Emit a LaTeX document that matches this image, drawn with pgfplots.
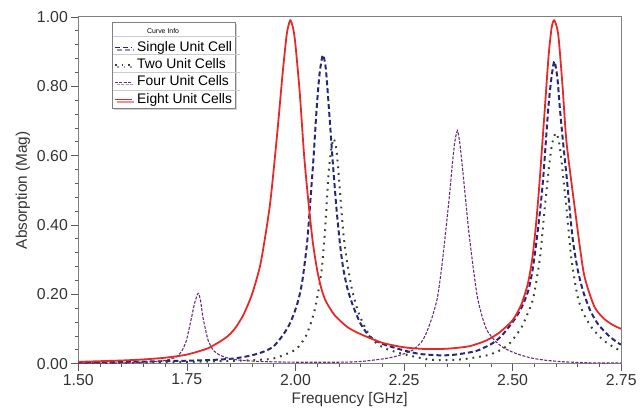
\documentclass[border=0pt]{standalone}
\usepackage{fontspec}
\setmainfont{Liberation Sans}
\usepackage{pgfplots}
\pgfplotsset{compat=1.18}
\usetikzlibrary{shadows}

\definecolor{cSingle}{RGB}{38,38,120}
\definecolor{cTwo}{RGB}{48,72,40}
\definecolor{cFour}{RGB}{104,44,118}
\definecolor{cEight}{RGB}{230,40,40}
\definecolor{cFrame}{RGB}{128,128,128}

\begin{document}
\begin{tikzpicture}
\begin{axis}[
  name=ax,
  scale only axis, width=548pt, height=350pt,
  xmin=1.5, xmax=2.75, ymin=0, ymax=1,
  xtick={1.5,1.75,2,2.25,2.5,2.75},
  ytick={0,0.2,0.4,0.6,0.8,1},
  minor x tick num=4, minor y tick num=4,
  tick align=outside, xtick pos=bottom, ytick pos=left,
  major tick length=7pt, minor tick length=3.5pt,
  axis line style={draw=cFrame, line width=0.8pt},
  tick style={draw=black!65, line width=0.6pt},
  /pgf/number format/assume math mode=true,
  xticklabel style={/pgf/number format/.cd, fixed, fixed zerofill, precision=2},
  yticklabel style={/pgf/number format/.cd, fixed, fixed zerofill, precision=2},
  tick label style={font=\fontsize{16}{18}\selectfont, text=black!80},
  label style={font=\fontsize{15.5}{18}\selectfont, text=black!80},
  xlabel={Frequency [GHz]}, ylabel={Absorption (Mag)},
  legend style={at={(0.062,0.986)}, anchor=north west, draw=cFrame, line width=0.6pt,
    fill=white, font=\fontsize{14}{16}\selectfont, inner xsep=2pt, inner ysep=1pt,
    row sep=2.5pt, column sep=4pt, nodes={inner sep=1pt, text height=10pt, text depth=3pt},
    drop shadow={shadow xshift=2pt, shadow yshift=-2pt, fill=black!35}},
  legend cell align=left,
  legend image code/.code={\draw[#1, line width=1.2pt] (0pt,0pt) -- (17pt,0pt);},
]
\addlegendimage{empty legend}
\addlegendentry{\hspace{10pt}\fontsize{7}{8}\selectfont Curve Info}

% Single Unit Cell
\addplot[cSingle, line width=2pt, dash pattern=on 5pt off 3pt, smooth, tension=0.4] coordinates {
(1.50,0.003) (1.60,0.005) (1.70,0.007) (1.80,0.010) (1.86,0.015) (1.90,0.024)
(1.93,0.036) (1.95,0.050) (1.97,0.080) (1.985,0.110) (1.997,0.145) (2.007,0.185)
(2.016,0.239) (2.027,0.350) (2.035,0.480) (2.042,0.600) (2.048,0.720) (2.055,0.830)
(2.063,0.890) (2.070,0.850) (2.078,0.720) (2.086,0.580) (2.095,0.440) (2.103,0.340)
(2.11,0.275) (2.12,0.215) (2.133,0.165) (2.15,0.115) (2.171,0.078) (2.20,0.057)
(2.247,0.039) (2.285,0.028) (2.33,0.024) (2.362,0.025) (2.40,0.032) (2.422,0.039)
(2.453,0.058) (2.476,0.082) (2.506,0.130) (2.522,0.165) (2.536,0.210) (2.546,0.270)
(2.555,0.353) (2.564,0.450) (2.571,0.544) (2.582,0.734) (2.589,0.820) (2.596,0.872)
(2.603,0.825) (2.609,0.734) (2.616,0.640) (2.624,0.544) (2.631,0.450) (2.639,0.353)
(2.650,0.270) (2.662,0.210) (2.678,0.155) (2.696,0.115) (2.72,0.082) (2.742,0.060)
(2.75,0.055)};
\addlegendentry{Single Unit Cell}

% Two Unit Cells
\addplot[cTwo, line width=2pt, dash pattern=on 1.8pt off 5pt, smooth, tension=0.4] coordinates {
(1.50,0.001) (1.60,0.002) (1.70,0.004) (1.80,0.006) (1.90,0.010) (1.95,0.015)
(2.00,0.040) (2.023,0.077) (2.035,0.115) (2.046,0.163) (2.055,0.225) (2.061,0.277)
(2.069,0.400) (2.076,0.544) (2.082,0.615) (2.088,0.649) (2.095,0.610) (2.103,0.490)
(2.11,0.380) (2.118,0.300) (2.13,0.215) (2.143,0.155) (2.156,0.115) (2.17,0.083)
(2.187,0.058) (2.21,0.042) (2.247,0.028) (2.30,0.013) (2.33,0.010) (2.37,0.011)
(2.40,0.015) (2.445,0.025) (2.472,0.039) (2.491,0.055) (2.51,0.085) (2.521,0.106)
(2.535,0.145) (2.548,0.191) (2.563,0.306) (2.574,0.449) (2.586,0.591) (2.593,0.645)
(2.600,0.665) (2.606,0.645) (2.612,0.591) (2.624,0.449) (2.635,0.306) (2.65,0.191)
(2.665,0.140) (2.681,0.106) (2.70,0.078) (2.719,0.058) (2.745,0.039) (2.75,0.037)};
\addlegendentry{Two Unit Cells}

% Four Unit Cells
\addplot[cFour, line width=1.1pt, dash pattern=on 3pt off 1.5pt, smooth, tension=0.4] coordinates {
(1.50,0.001) (1.60,0.002) (1.65,0.004) (1.68,0.006) (1.70,0.009) (1.727,0.020)
(1.74,0.040) (1.749,0.067) (1.755,0.100) (1.761,0.134) (1.768,0.175) (1.776,0.203)
(1.781,0.185) (1.787,0.134) (1.793,0.098) (1.799,0.067) (1.81,0.040) (1.825,0.025)
(1.85,0.014) (1.871,0.010) (1.92,0.006) (2.00,0.004) (2.10,0.004) (2.15,0.006)
(2.209,0.015) (2.24,0.024) (2.270,0.039) (2.29,0.062) (2.301,0.087) (2.315,0.135)
(2.327,0.191) (2.337,0.280) (2.346,0.382) (2.355,0.490) (2.361,0.572) (2.367,0.640)
(2.373,0.672) (2.378,0.640) (2.384,0.572) (2.392,0.470) (2.399,0.382) (2.41,0.270)
(2.419,0.191) (2.43,0.135) (2.441,0.096) (2.46,0.065) (2.48,0.045) (2.506,0.030)
(2.54,0.017) (2.574,0.010) (2.62,0.005) (2.688,0.002) (2.75,0.002)};
\addlegendentry{Four Unit Cells}

% Eight Unit Cells
\addplot[cEight, line width=1.8pt, smooth, tension=0.4] coordinates {
(1.50,0.005) (1.55,0.007) (1.60,0.009) (1.65,0.012) (1.70,0.017) (1.75,0.026)
(1.80,0.045) (1.84,0.075) (1.86,0.100) (1.88,0.140) (1.90,0.200) (1.92,0.290)
(1.94,0.445) (1.95,0.560) (1.96,0.690) (1.97,0.830) (1.98,0.950) (1.988,0.990)
(1.995,0.965) (2.00,0.920) (2.01,0.780) (2.02,0.600) (2.03,0.465) (2.04,0.350)
(2.05,0.270) (2.06,0.215) (2.07,0.180) (2.09,0.140) (2.12,0.105) (2.15,0.085)
(2.20,0.060) (2.25,0.047) (2.30,0.042) (2.35,0.043) (2.40,0.050) (2.44,0.067)
(2.47,0.090) (2.50,0.125) (2.52,0.170) (2.535,0.230) (2.545,0.300) (2.553,0.390)
(2.560,0.490) (2.567,0.610) (2.575,0.750) (2.583,0.890) (2.59,0.970) (2.596,0.990)
(2.605,0.950) (2.615,0.800) (2.624,0.640) (2.643,0.450) (2.664,0.260) (2.688,0.165)
(2.71,0.130) (2.73,0.112) (2.75,0.100)};
\addlegendentry{Eight Unit Cells}
\end{axis}
% row separators of the legend box
\foreach \yy in {20,38,56,74}
  \draw[black!20, line width=0.4pt] ([shift={(35pt,-\yy pt)}]ax.north west) -- ++(128pt,0);
\pgfresetboundingbox
\path[use as bounding box] ([shift={(-79pt,-46pt)}]ax.south west) rectangle ([shift={(20pt,17pt)}]ax.north east);
\end{tikzpicture}
\end{document}
